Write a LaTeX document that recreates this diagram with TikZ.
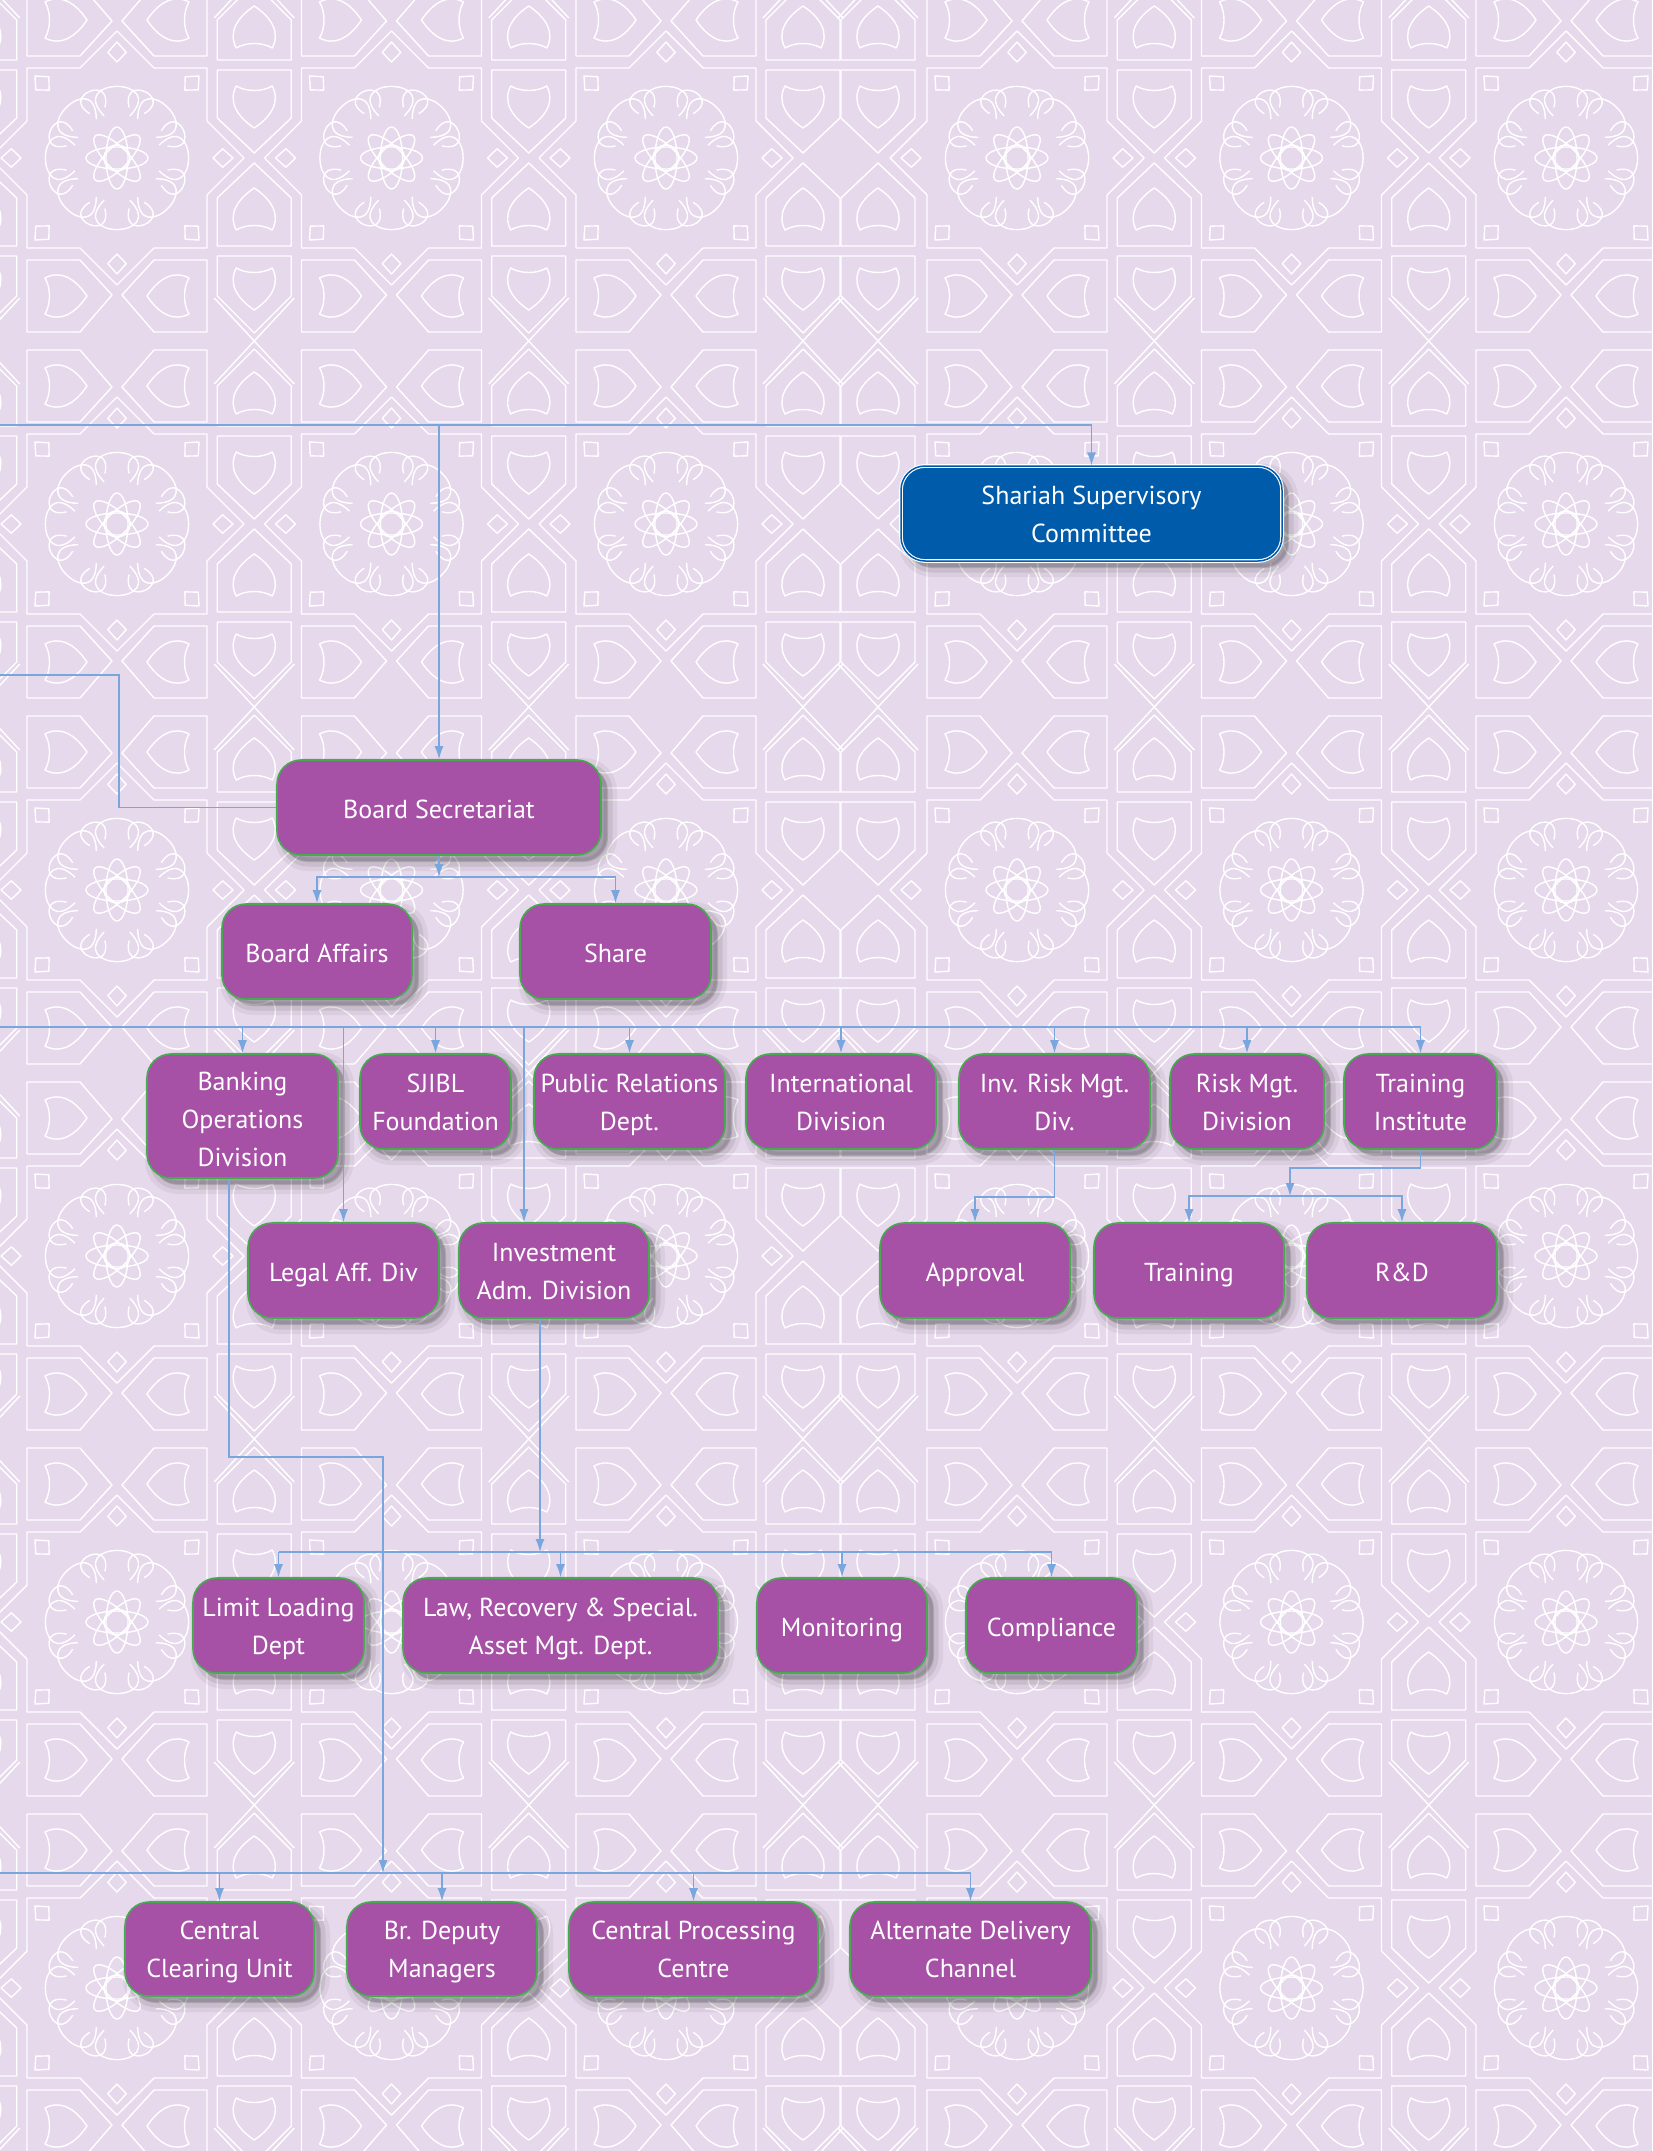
\documentclass[tikz,border=0pt]{standalone}
\usepackage{fontspec}
\setmainfont{PT Sans}
\usetikzlibrary{arrows.meta,calc,shadows}
\definecolor{bgc}{RGB}{230,217,235}
\definecolor{boxc}{RGB}{166,80,166}
\definecolor{edgec}{RGB}{70,170,80}
\definecolor{shc}{RGB}{0,91,170}
\definecolor{linec}{RGB}{122,166,222}
\tikzset{
  pat/.style={draw=white, line width=1.4pt, line join=round},
  leaf/.pic={\draw[pat] (-18,-20) .. controls (-8,-14) and (8,-14) .. (18,-20) .. controls (26,-5) and (18,10) .. (0,22) .. controls (-18,10) and (-26,-5) .. cycle;},
  softshadow/.style={
    general shadow={fill=black, fill opacity=0.05, draw=black, draw opacity=0.05, line width=18pt, shadow xshift=7pt, shadow yshift=-7pt},
    general shadow={fill=black, fill opacity=0.08, draw=black, draw opacity=0.08, line width=9pt, shadow xshift=7pt, shadow yshift=-7pt},
    general shadow={fill=black, fill opacity=0.12, shadow xshift=6pt, shadow yshift=-6pt}},
  box/.style={rounded corners=24pt, fill=boxc, draw=edgec, line width=1.6pt, text=white,
    align=center, inner sep=0pt, font=\fontsize{26}{38}\selectfont, softshadow},
  one/.style={text height=27pt, text depth=5pt},
  two/.style={text height=63.5pt, text depth=6pt},
  three/.style={text height=106.3pt, text depth=6pt},
  cline/.style={draw=linec, line width=1.4pt},
  conn/.style={cline, -{Latex[length=13pt,width=9pt]}}
}
\begin{document}
\begin{tikzpicture}[x=1pt,y=-1pt]
\useasboundingbox (0,0) rectangle (1652,2151);
\fill[bgc] (0,0) rectangle (1652,2151);
% ---------- background pattern ----------
\begin{scope}
\clip (0,0) rectangle (1652,2151);
\foreach \sx in {-157.5,117,391.5,666,1017,1291.5,1566,1840.5}{
 \foreach \sy in {-208,158,524,890,1256,1622,1988,2354}{
  \begin{scope}[shift={(\sx,\sy)}]
   \draw[pat] (127,0) -- (90,37) -- (90,90) -- (37,90) -- (0,127) -- (-37,90) -- (-90,90) -- (-90,37) -- (-127,0) -- (-90,-37) -- (-90,-90) -- (-37,-90) -- (0,-127) -- (37,-90) -- (90,-90) -- (90,-37) -- cycle;
   \draw[pat] (0,0) circle (13);
   \foreach \a in {0,45,90,135} \draw[pat,rotate=\a] (0,0) ellipse (31 and 11);
   \foreach \a in {0,45,...,315} {
     \draw[pat] (\a-17:44) .. controls (\a-32:96) and (\a+32:96) .. (\a+17:44);
     \draw[pat] (\a:96) -- (\a+5:106) -- (\a:116) -- (\a-5:106) -- cycle;
     \draw[pat] (\a+22.5-9:52) .. controls (\a+22.5-20:84) and (\a+22.5+20:84) .. (\a+22.5+9:52);
   }
   \draw[pat] (-90,102) -- (-37,102) -- (-5,137) -- (-37,174) -- (-90,174) -- cycle;
   \draw[pat] (90,102) -- (37,102) -- (5,137) -- (37,174) -- (90,174) -- cycle;
   \draw[pat] (-90,192) -- (-37,192) -- (-5,229) -- (-37,264) -- (-90,264) -- cycle;
   \draw[pat] (90,192) -- (37,192) -- (5,229) -- (37,264) -- (90,264) -- cycle;
   \pic[rotate=90] at (-52,138) {leaf};
   \pic[rotate=-90] at (52,138) {leaf};
   \pic[rotate=90] at (-52,228) {leaf};
   \pic[rotate=-90] at (52,228) {leaf};
  \end{scope}
 }}
\foreach \cx in {-20.25,254.25,528.75,803,878,1154.25,1428.75,1703.25}{
 \foreach \sy in {-208,158,524,890,1256,1622,1988,2354}{
  \begin{scope}[shift={(\cx,\sy)}]
   \draw[pat] (-37,-88) -- (37,-88) -- (37,-40) -- (0,-5) -- (-37,-40) -- cycle;
   \draw[pat] (-37,88) -- (37,88) -- (37,40) -- (0,5) -- (-37,40) -- cycle;
   \draw[pat] (-37,98) -- (37,98) -- (37,138) -- (0,175) -- (-37,138) -- cycle;
   \draw[pat] (-37,268) -- (37,268) -- (37,228) -- (0,191) -- (-37,228) -- cycle;
   \draw[pat] (-40,140) -- (40,226);
   \draw[pat] (40,140) -- (-40,226);
   \pic at (0,-52) {leaf};
   \pic[rotate=180] at (0,52) {leaf};
   \pic at (0,130) {leaf};
   \pic[rotate=180] at (0,236) {leaf};
  \end{scope}
 }}
\end{scope}
% ---------- boxes ----------
\node[box, two, minimum width=381pt, minimum height=95pt, fill=shc, draw=white, double=shc, double distance=1.5pt, line width=1.1pt] (ssc) at (1091.5,513.5) {Shariah Supervisory\\Committee};
\node[box, one, minimum width=324pt, minimum height=95pt] (bs) at (439,807.5) {Board Secretariat};
\node[box, one, minimum width=190pt, minimum height=95pt] (ba) at (317,951.5) {Board Affairs};
\node[box, one, minimum width=191pt, minimum height=95pt] (share) at (615.5,951.5) {Share};
\node[box, three, minimum width=191pt, minimum height=124pt] (bod) at (242.5,1116) {Banking\\Operations\\Division};
\node[box, two, minimum width=151pt, minimum height=95pt] (sjibl) at (435.5,1101.5) {SJIBL\\Foundation};
\node[box, two, minimum width=191pt, minimum height=95pt] (pr) at (629.5,1101.5) {Public Relations\\Dept.};
\node[box, two, minimum width=190pt, minimum height=95pt] (intl) at (841,1101.5) {International\\Division};
\node[box, two, minimum width=191pt, minimum height=95pt] (invrisk) at (1054.5,1101.5) {Inv. Risk Mgt.\\Div.};
\node[box, two, minimum width=154pt, minimum height=95pt] (risk) at (1247,1101.5) {Risk Mgt.\\Division};
\node[box, two, minimum width=153pt, minimum height=95pt] (ti) at (1420.5,1101.5) {Training\\Institute};
\node[box, one, minimum width=191pt, minimum height=95pt] (legal) at (343.5,1270.5) {Legal Aff. Div};
\node[box, two, minimum width=190pt, minimum height=95pt] (invadm) at (554,1270.5) {Investment\\Adm. Division};
\node[box, one, minimum width=190pt, minimum height=95pt] (appr) at (975,1270.5) {Approval};
\node[box, one, minimum width=190pt, minimum height=95pt] (train) at (1189,1270.5) {Training};
\node[box, one, minimum width=190pt, minimum height=95pt] (rd) at (1402,1270.5) {R\&D};
\node[box, two, minimum width=171pt, minimum height=95pt] (limit) at (278.5,1625.5) {Limit Loading\\Dept};
\node[box, two, minimum width=315pt, minimum height=95pt] (law) at (560.5,1625.5) {Law, Recovery \& Special.\\Asset Mgt. Dept.};
\node[box, one, minimum width=170pt, minimum height=95pt] (mon) at (842,1625.5) {Monitoring};
\node[box, one, minimum width=171pt, minimum height=95pt] (comp) at (1051.5,1625.5) {Compliance};
\node[box, two, minimum width=189pt, minimum height=94pt] (ccu) at (219.5,1949) {Central\\Clearing Unit};
\node[box, two, minimum width=190pt, minimum height=94pt] (brdm) at (442,1949) {Br. Deputy\\Managers};
\node[box, two, minimum width=249pt, minimum height=94pt] (cpc) at (693.5,1949) {Central Processing\\Centre};
\node[box, two, minimum width=241pt, minimum height=94pt] (adc) at (970.5,1949) {Alternate Delivery\\Channel};
% ---------- connectors ----------
\coordinate (L1) at (0,425);
\coordinate (J0) at (439,425);
\draw[cline] (L1) -- (J0);
\draw[conn] (J0) -| (ssc.north);
\draw[conn] (J0) -- (bs.north);
\coordinate (L2) at (0,675);
\draw[cline] (L2) -- ++(119,0) |- (bs.west);
\coordinate (J1) at (439,877);
\draw[conn] (bs.south) -- (J1);
\draw[conn] (J1) -| (ba.north);
\draw[conn] (J1) -| (share.north);
\coordinate (L3) at (0,1027);
\draw[cline] (L3) -- (ti.north |- L3);
\foreach \n in {bod,sjibl,pr,intl,invrisk,risk,ti,legal}
  \draw[conn] (\n.north |- L3) -- (\n.north);
\coordinate (iaN) at ($(invadm.north)+(-30,0)$);
\draw[conn] (iaN |- L3) -- (iaN);
\draw[conn] (invrisk.south) -- ++(0,47) -| (appr.north);
\coordinate (J2) at (1290,1196);
\draw[conn] (ti.south) |- ($(J2)+(0,-28)$) -- (J2);
\draw[conn] (J2) -| (train.north);
\draw[conn] (J2) -| (rd.north);
\coordinate (bodS) at ($(bod.south)+(-13.5,0)$);
\coordinate (J3) at (383,1873);
\draw[conn] (bodS) -- ++(0,278) -| (J3);
\coordinate (L4) at (0,1873);
\draw[cline] (L4) -- (adc.north |- L4);
\foreach \n in {ccu,brdm,cpc,adc}
  \draw[conn] (\n.north |- L4) -- (\n.north);
\coordinate (iaS) at ($(invadm.south)+(-14,0)$);
\coordinate (J4) at (540,1552);
\draw[conn] (iaS) -- (J4);
\draw[cline] (limit.north |- J4) -- (comp.north |- J4);
\foreach \n in {limit,law,mon,comp}
  \draw[conn] (\n.north |- J4) -- (\n.north);
\end{tikzpicture}
\end{document}
